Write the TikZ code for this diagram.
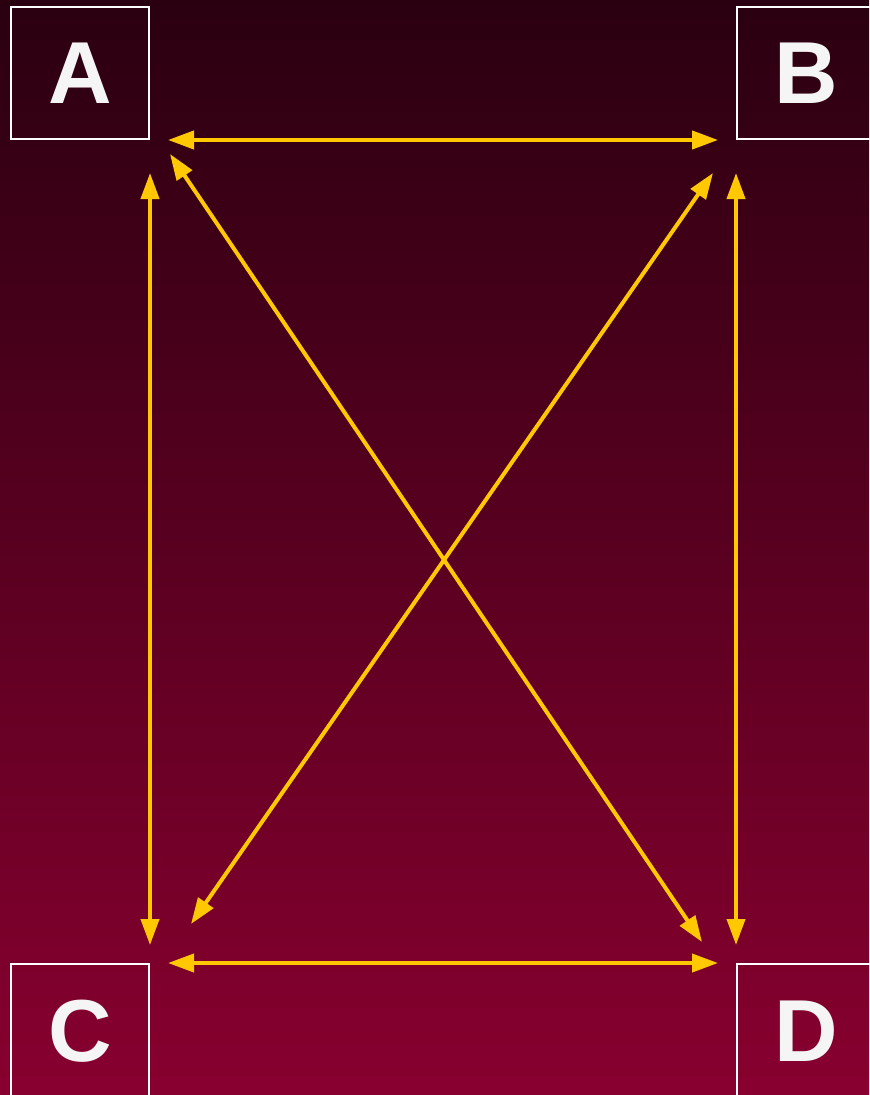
\documentclass[tikz,border=0pt]{standalone}
\usepackage{fontspec}
\setmainfont{Liberation Sans}
\usetikzlibrary{arrows.meta}
\definecolor{bgtop}{HTML}{2A0010}
\definecolor{bgbottom}{HTML}{88002F}
\definecolor{gold}{HTML}{FFC800}
\tikzset{
  corner/.style={draw=white, line width=1.5pt, minimum width=103.5pt, minimum height=99pt,
    inner sep=0pt, text=white!96!black, font=\fontsize{66}{66}\selectfont\bfseries,
    text height=46.5pt, text depth=0pt},
  link/.style={gold, line width=3pt,
    {Triangle[length=19.5pt,width=13.5pt]}-{Triangle[length=19.5pt,width=13.5pt]}}
}
\begin{document}
\begin{tikzpicture}[x=0.75pt,y=-0.75pt]
\shade[top color=bgtop, bottom color=bgbottom] (0,0) rectangle (869,1095);
\useasboundingbox (0,0) rectangle (869,1095);

\node[corner] (A) at (80,73) {A};
\node[corner] (B) at (806,73) {B};
\node[corner] (C) at (80,1030) {C};
\node[corner] (D) at (806,1030) {D};

\draw[link, shorten <=13.5pt, shorten >=13.5pt] (A.south east) -- (B.south west);
\draw[link, shorten <=13.5pt, shorten >=13.5pt] (C.north east) -- (D.north west);
\draw[link, shorten <=24.75pt, shorten >=13.5pt] (A.south east) -- (C.north east);
\draw[link, shorten <=24.75pt, shorten >=13.5pt] (B.south west) -- (D.north west);
\draw[link] ([shift={(20,14)}]A.south east) -- ([shift={(-34,-21)}]D.north west);
\draw[link] ([shift={(-23,33)}]B.south west) -- ([shift={(41,-39)}]C.north east);
\end{tikzpicture}
\end{document}
